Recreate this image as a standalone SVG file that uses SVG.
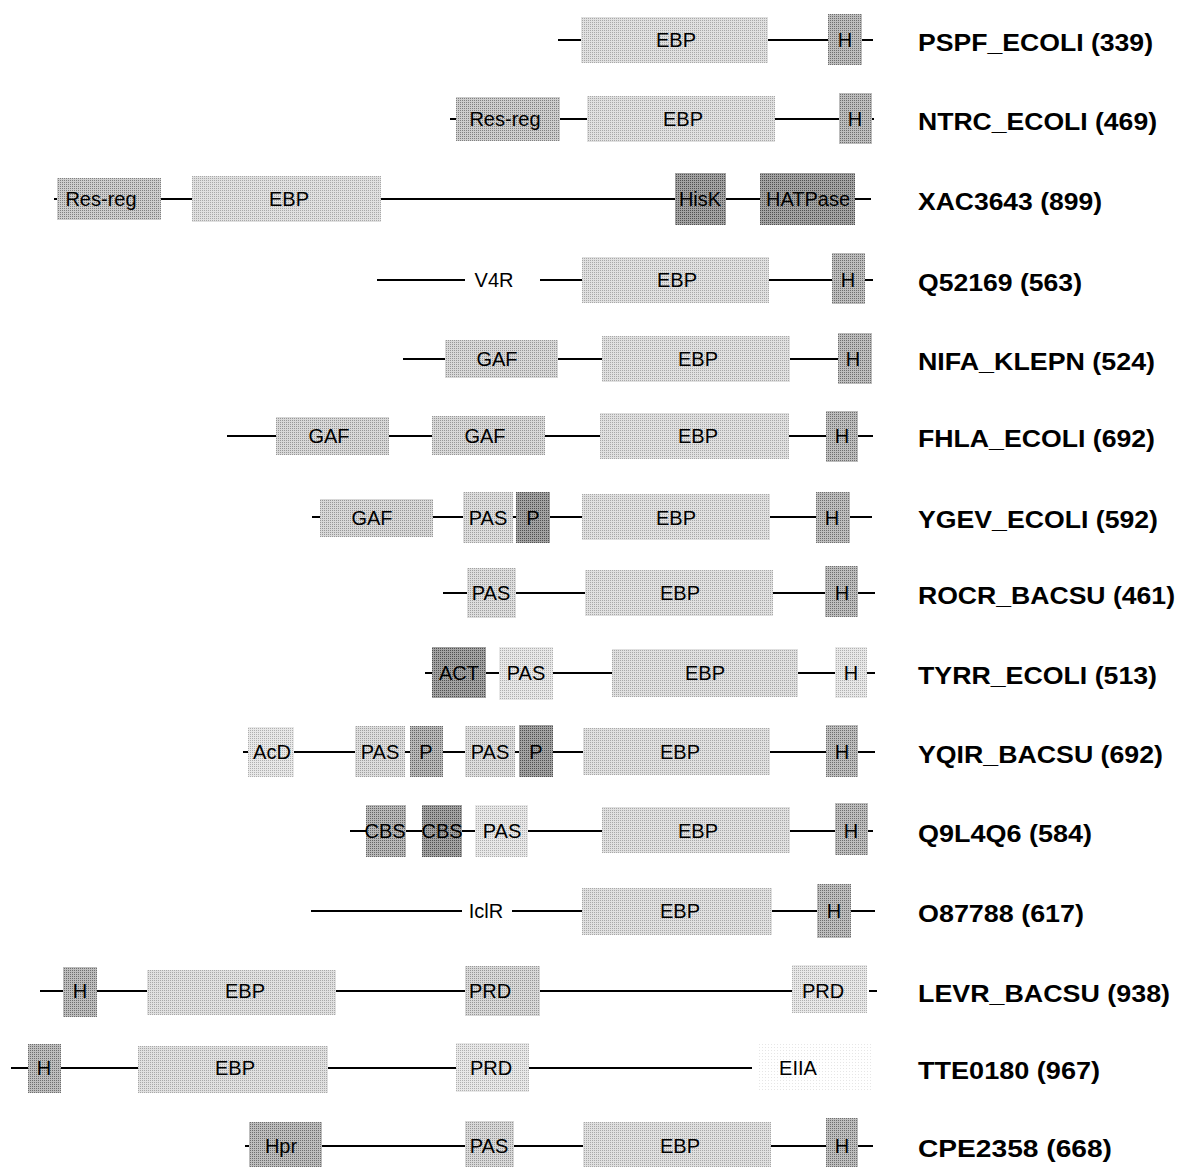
<svg xmlns="http://www.w3.org/2000/svg" width="1180" height="1167" viewBox="0 0 1180 1167">
<defs>
<pattern id="pEBP" width="2" height="2" patternUnits="userSpaceOnUse"><rect width="2" height="2" fill="#e0e0e0"/><rect width="1" height="1" fill="#a8a8a8"/></pattern>
<pattern id="pH" width="2" height="2" patternUnits="userSpaceOnUse"><rect width="2" height="2" fill="#bdbdbd"/><rect width="1" height="1" fill="#6e6e6e"/></pattern>
<pattern id="pRes" width="2" height="2" patternUnits="userSpaceOnUse"><rect width="2" height="2" fill="#cdcdcd"/><rect width="1" height="1" fill="#808080"/></pattern>
<pattern id="pDark" width="2" height="2" patternUnits="userSpaceOnUse"><rect width="2" height="2" fill="#a2a2a2"/><rect width="1" height="1" fill="#505050"/></pattern>
<pattern id="pMid" width="2" height="2" patternUnits="userSpaceOnUse"><rect width="2" height="2" fill="#b8b8b8"/><rect width="1" height="1" fill="#666666"/></pattern>
<pattern id="pGAF" width="2" height="2" patternUnits="userSpaceOnUse"><rect width="2" height="2" fill="#d8d8d8"/><rect width="1" height="1" fill="#979797"/></pattern>
<pattern id="pPAS" width="2" height="2" patternUnits="userSpaceOnUse"><rect width="2" height="2" fill="#dddddd"/><rect width="1" height="1" fill="#a0a0a0"/></pattern>
<pattern id="pLight" width="2" height="2" patternUnits="userSpaceOnUse"><rect width="2" height="2" fill="#e8e8e8"/><rect width="1" height="1" fill="#b0b0b0"/></pattern>
<pattern id="pFaint" width="3" height="3" patternUnits="userSpaceOnUse"><rect width="3" height="3" fill="#ffffff"/><rect width="1" height="1" fill="#e6e6e6"/></pattern>
</defs>
<style>
.ln{stroke:#000;stroke-width:2;fill:none}
.dt{font-family:"Liberation Sans",Arial,sans-serif;font-size:20px;fill:#000;text-anchor:middle}
.lb{font-family:"Liberation Sans",Arial,sans-serif;font-size:24px;font-weight:bold;fill:#000}
.ebp{fill:url(#pEBP)}
.h{fill:url(#pH)}
.res{fill:url(#pRes)}
.dark{fill:url(#pDark)}
.mid{fill:url(#pMid)}
.gaf{fill:url(#pGAF)}
.pas{fill:url(#pPAS)}
.light{fill:url(#pLight)}
.faint{fill:url(#pFaint)}
</style>
<rect width="1180" height="1167" fill="#ffffff"/>
<g id="connectors">
<line class="ln" x1="558" y1="40" x2="873" y2="40"/>
<line class="ln" x1="450" y1="119" x2="874" y2="119"/>
<line class="ln" x1="54" y1="199" x2="871" y2="199"/>
<line class="ln" x1="377" y1="280" x2="465" y2="280"/>
<line class="ln" x1="540" y1="280" x2="873" y2="280"/>
<line class="ln" x1="403" y1="359" x2="872" y2="359"/>
<line class="ln" x1="227" y1="436" x2="873" y2="436"/>
<line class="ln" x1="312" y1="517" x2="872" y2="517"/>
<line class="ln" x1="443" y1="593" x2="875" y2="593"/>
<line class="ln" x1="425" y1="673" x2="875" y2="673"/>
<line class="ln" x1="243" y1="752" x2="875" y2="752"/>
<line class="ln" x1="350" y1="831" x2="873" y2="831"/>
<line class="ln" x1="311" y1="911" x2="462" y2="911"/>
<line class="ln" x1="512" y1="911" x2="875" y2="911"/>
<line class="ln" x1="40" y1="991" x2="867" y2="991"/>
<line class="ln" x1="869" y1="991" x2="877" y2="991"/>
<line class="ln" x1="11" y1="1068" x2="752" y2="1068"/>
<line class="ln" x1="245" y1="1146" x2="873" y2="1146"/>
</g>

<!-- Row 1 PSPF -->
<g id="pspf-ebp"><rect class="ebp" x="581" y="17" width="187" height="46"/><text class="dt" x="676" y="47">EBP</text></g>
<g id="pspf-h"><rect class="h" x="828" y="14" width="34" height="51"/><text class="dt" x="845" y="47">H</text></g>
<g id="pspf-label"><text class="lb" x="918" y="51" textLength="235" lengthAdjust="spacingAndGlyphs">PSPF_ECOLI (339)</text></g>

<!-- Row 2 NTRC -->
<g id="ntrc-res"><rect class="res" x="456" y="97" width="104" height="44"/><text class="dt" x="505" y="126">Res-reg</text></g>
<g id="ntrc-ebp"><rect class="ebp" x="587" y="96" width="188" height="46"/><text class="dt" x="683" y="126">EBP</text></g>
<g id="ntrc-h"><rect class="h" x="839" y="93" width="33" height="51"/><text class="dt" x="855" y="126">H</text></g>
<g id="ntrc-label"><text class="lb" x="918" y="130" textLength="239" lengthAdjust="spacingAndGlyphs">NTRC_ECOLI (469)</text></g>

<!-- Row 3 XAC3643 -->
<g id="xac-res"><rect class="res" x="57" y="178" width="104" height="42"/><text class="dt" x="101" y="206">Res-reg</text></g>
<g id="xac-ebp"><rect class="ebp" x="192" y="176" width="189" height="46"/><text class="dt" x="289" y="206">EBP</text></g>
<g id="xac-hisk"><rect class="dark" x="675" y="173" width="51" height="52"/><text class="dt" x="700" y="206">HisK</text></g>
<g id="xac-hatpase"><rect class="dark" x="760" y="173" width="95" height="52"/><text class="dt" x="808" y="206">HATPase</text></g>
<g id="xac-label"><text class="lb" x="918" y="210" textLength="184" lengthAdjust="spacingAndGlyphs">XAC3643 (899)</text></g>

<!-- Row 4 Q52169 -->
<g id="q52-v4r"><text class="dt" x="494" y="287">V4R</text></g>
<g id="q52-ebp"><rect class="ebp" x="582" y="257" width="187" height="46"/><text class="dt" x="677" y="287">EBP</text></g>
<g id="q52-h"><rect class="h" x="832" y="253" width="33" height="51"/><text class="dt" x="848" y="287">H</text></g>
<g id="q52-label"><text class="lb" x="918" y="291" textLength="164" lengthAdjust="spacingAndGlyphs">Q52169 (563)</text></g>

<!-- Row 5 NIFA -->
<g id="nifa-gaf"><rect class="gaf" x="445" y="340" width="113" height="38"/><text class="dt" x="497" y="366">GAF</text></g>
<g id="nifa-ebp"><rect class="ebp" x="602" y="336" width="188" height="46"/><text class="dt" x="698" y="366">EBP</text></g>
<g id="nifa-h"><rect class="h" x="838" y="333" width="34" height="51"/><text class="dt" x="853" y="366">H</text></g>
<g id="nifa-label"><text class="lb" x="918" y="370" textLength="237" lengthAdjust="spacingAndGlyphs">NIFA_KLEPN (524)</text></g>

<!-- Row 6 FHLA -->
<g id="fhla-gaf1"><rect class="gaf" x="276" y="417" width="113" height="38"/><text class="dt" x="329" y="443">GAF</text></g>
<g id="fhla-gaf2"><rect class="gaf" x="432" y="416" width="113" height="39"/><text class="dt" x="485" y="443">GAF</text></g>
<g id="fhla-ebp"><rect class="ebp" x="600" y="413" width="189" height="46"/><text class="dt" x="698" y="443">EBP</text></g>
<g id="fhla-h"><rect class="h" x="826" y="411" width="32" height="51"/><text class="dt" x="842" y="443">H</text></g>
<g id="fhla-label"><text class="lb" x="918" y="447" textLength="237" lengthAdjust="spacingAndGlyphs">FHLA_ECOLI (692)</text></g>

<!-- Row 7 YGEV -->
<g id="ygev-gaf"><rect class="gaf" x="320" y="499" width="113" height="38"/><text class="dt" x="372" y="525">GAF</text></g>
<g id="ygev-pas"><rect class="pas" x="463" y="492" width="50" height="51"/><text class="dt" x="488" y="525">PAS</text></g>
<g id="ygev-p"><rect class="dark" x="516" y="492" width="34" height="51"/><text class="dt" x="533" y="525">P</text></g>
<g id="ygev-ebp"><rect class="ebp" x="582" y="494" width="188" height="46"/><text class="dt" x="676" y="525">EBP</text></g>
<g id="ygev-h"><rect class="h" x="816" y="492" width="34" height="51"/><text class="dt" x="832" y="525">H</text></g>
<g id="ygev-label"><text class="lb" x="918" y="528" textLength="240" lengthAdjust="spacingAndGlyphs">YGEV_ECOLI (592)</text></g>

<!-- Row 8 ROCR -->
<g id="rocr-pas"><rect class="pas" x="467" y="568" width="49" height="50"/><text class="dt" x="491" y="600">PAS</text></g>
<g id="rocr-ebp"><rect class="ebp" x="585" y="570" width="188" height="46"/><text class="dt" x="680" y="600">EBP</text></g>
<g id="rocr-h"><rect class="h" x="825" y="566" width="33" height="51"/><text class="dt" x="842" y="600">H</text></g>
<g id="rocr-label"><text class="lb" x="918" y="604" textLength="257" lengthAdjust="spacingAndGlyphs">ROCR_BACSU (461)</text></g>

<!-- Row 9 TYRR -->
<g id="tyrr-act"><rect class="dark" x="432" y="647" width="54" height="51"/><text class="dt" x="459" y="680">ACT</text></g>
<g id="tyrr-pas"><rect class="light" x="499" y="647" width="54" height="53"/><text class="dt" x="526" y="680">PAS</text></g>
<g id="tyrr-ebp"><rect class="ebp" x="612" y="649" width="186" height="48"/><text class="dt" x="705" y="680">EBP</text></g>
<g id="tyrr-h"><rect class="light" x="835" y="647" width="32" height="51"/><text class="dt" x="851" y="680">H</text></g>
<g id="tyrr-label"><text class="lb" x="918" y="684" textLength="239" lengthAdjust="spacingAndGlyphs">TYRR_ECOLI (513)</text></g>

<!-- Row 10 YQIR -->
<g id="yqir-acd"><rect class="light" x="248" y="727" width="46" height="50"/><text class="dt" x="272" y="759">AcD</text></g>
<g id="yqir-pas1"><rect class="pas" x="355" y="726" width="50" height="51"/><text class="dt" x="380" y="759">PAS</text></g>
<g id="yqir-p1"><rect class="mid" x="410" y="726" width="33" height="51"/><text class="dt" x="426" y="759">P</text></g>
<g id="yqir-pas2"><rect class="pas" x="465" y="726" width="50" height="51"/><text class="dt" x="490" y="759">PAS</text></g>
<g id="yqir-p2"><rect class="dark" x="519" y="725" width="34" height="52"/><text class="dt" x="536" y="759">P</text></g>
<g id="yqir-ebp"><rect class="ebp" x="583" y="728" width="187" height="47"/><text class="dt" x="680" y="759">EBP</text></g>
<g id="yqir-h"><rect class="h" x="826" y="725" width="32" height="52"/><text class="dt" x="842" y="759">H</text></g>
<g id="yqir-label"><text class="lb" x="918" y="763" textLength="245" lengthAdjust="spacingAndGlyphs">YQIR_BACSU (692)</text></g>

<!-- Row 11 Q9L4Q6 -->
<g id="q9l-cbs1"><rect class="mid" x="366" y="805" width="40" height="52"/><text class="dt" x="385" y="838">CBS</text></g>
<g id="q9l-cbs2"><rect class="dark" x="422" y="805" width="40" height="52"/><text class="dt" x="442" y="838">CBS</text></g>
<g id="q9l-pas"><rect class="light" x="475" y="805" width="53" height="52"/><text class="dt" x="502" y="838">PAS</text></g>
<g id="q9l-ebp"><rect class="ebp" x="602" y="807" width="188" height="46"/><text class="dt" x="698" y="838">EBP</text></g>
<g id="q9l-h"><rect class="h" x="835" y="803" width="33" height="52"/><text class="dt" x="851" y="838">H</text></g>
<g id="q9l-label"><text class="lb" x="918" y="842" textLength="174" lengthAdjust="spacingAndGlyphs">Q9L4Q6 (584)</text></g>

<!-- Row 12 O87788 -->
<g id="o87-iclr"><text class="dt" x="486" y="918">IclR</text></g>
<g id="o87-ebp"><rect class="ebp" x="582" y="888" width="190" height="47"/><text class="dt" x="680" y="918">EBP</text></g>
<g id="o87-h"><rect class="h" x="817" y="884" width="34" height="54"/><text class="dt" x="834" y="918">H</text></g>
<g id="o87-label"><text class="lb" x="918" y="922" textLength="166" lengthAdjust="spacingAndGlyphs">O87788 (617)</text></g>

<!-- Row 13 LEVR -->
<g id="levr-h"><rect class="h" x="63" y="967" width="34" height="50"/><text class="dt" x="80" y="998">H</text></g>
<g id="levr-ebp"><rect class="ebp" x="147" y="970" width="189" height="45"/><text class="dt" x="245" y="998">EBP</text></g>
<g id="levr-prd1"><rect class="gaf" x="465" y="966" width="75" height="50"/><text class="dt" x="490" y="998">PRD</text></g>
<g id="levr-prd2"><rect class="light" x="792" y="965" width="75" height="48"/><text class="dt" x="823" y="998">PRD</text></g>
<g id="levr-label"><text class="lb" x="918" y="1002" textLength="252" lengthAdjust="spacingAndGlyphs">LEVR_BACSU (938)</text></g>

<!-- Row 14 TTE0180 -->
<g id="tte-h"><rect class="h" x="28" y="1044" width="33" height="49"/><text class="dt" x="44" y="1075">H</text></g>
<g id="tte-ebp"><rect class="ebp" x="138" y="1046" width="190" height="47"/><text class="dt" x="235" y="1075">EBP</text></g>
<g id="tte-prd"><rect class="light" x="456" y="1043" width="73" height="49"/><text class="dt" x="491" y="1075">PRD</text></g>
<g id="tte-eiia"><rect class="faint" x="757" y="1044" width="116" height="48"/><text class="dt" x="798" y="1075">EIIA</text></g>
<g id="tte-label"><text class="lb" x="918" y="1079" textLength="182" lengthAdjust="spacingAndGlyphs">TTE0180 (967)</text></g>

<!-- Row 15 CPE2358 -->
<g id="cpe-hpr"><rect class="h" x="249" y="1122" width="73" height="45"/><text class="dt" x="281" y="1153">Hpr</text></g>
<g id="cpe-pas"><rect class="gaf" x="465" y="1121" width="49" height="46"/><text class="dt" x="489" y="1153">PAS</text></g>
<g id="cpe-ebp"><rect class="ebp" x="583" y="1122" width="188" height="45"/><text class="dt" x="680" y="1153">EBP</text></g>
<g id="cpe-h"><rect class="h" x="826" y="1118" width="32" height="49"/><text class="dt" x="842" y="1153">H</text></g>
<g id="cpe-label"><text class="lb" x="918" y="1157" textLength="194" lengthAdjust="spacingAndGlyphs">CPE2358 (668)</text></g>
</svg>
